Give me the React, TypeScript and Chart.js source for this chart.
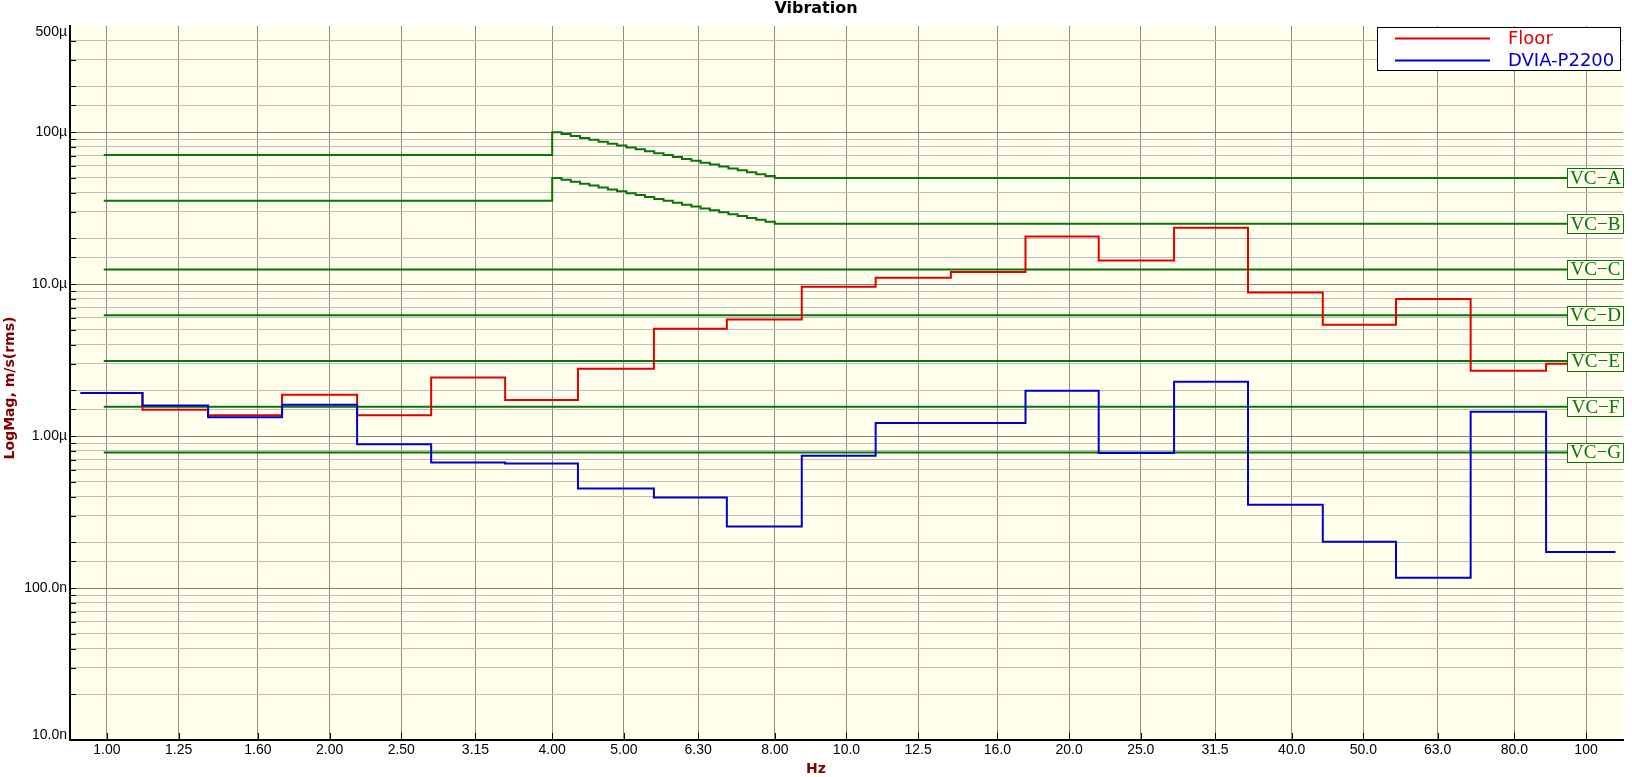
import React, { useEffect, useRef } from 'react';
import { Chart, registerables } from 'chart.js';

Chart.register(...registerables);

// ---- Data (velocity in µm/s, frequency in Hz) ----
const bandLabels = ['1.00', '1.25', '1.60', '2.00', '2.50', '3.15', '4.00', '5.00', '6.30', '8.00', '10.0', '12.5', '16.0', '20.0', '25.0', '31.5', '40.0', '50.0', '63.0', '80.0', '100'];
const bandCenters = [1, 1.25, 1.6, 2, 2.5, 3.15, 4, 5, 6.3, 8, 10, 12.5, 16, 20, 25, 31.5, 40, 50, 63, 80, 100];
// step edges of the bands as drawn
const bandEdges = [0.921, 1.117, 1.37, 1.725, 2.179, 2.744, 3.455, 4.334, 5.49, 6.89, 8.7, 10.95, 13.84, 17.46, 21.93, 27.73, 34.91, 44.06, 55.34, 69.82, 88.31, 109.6];

const floorValues = [1.92, 1.49, 1.37, 1.87, 1.37, 2.43, 1.73, 2.77, 5.08, 5.85, 9.6, 11.0, 12.0, 20.6, 14.3, 23.5, 8.81, 5.4, 8.0, 2.69, 2.99];
const dviaValues = [1.92, 1.59, 1.33, 1.61, 0.885, 0.67, 0.66, 0.452, 0.394, 0.254, 0.742, 1.22, 1.22, 1.99, 0.773, 2.28, 0.353, 0.202, 0.117, 1.445, 0.173];

const vcNames = ['VC\u2212A', 'VC\u2212B', 'VC\u2212C', 'VC\u2212D', 'VC\u2212E', 'VC\u2212F', 'VC\u2212G'];
const vcHighLevels = [50, 25, 12.5, 6.25, 3.12, 1.56, 0.78];
const vcLowA = 70.7;
const vcLowB = 35.4;
const vcStartFreq = 0.99;
const vcEndFreq = 100;
const slopeFreqs = [4.0, 4.117, 4.238, 4.362, 4.49, 4.621, 4.757, 4.896, 5.04, 5.187, 5.339, 5.496, 5.657, 5.823, 5.993, 6.169, 6.35, 6.536, 6.727, 6.924, 7.127, 7.336, 7.551, 7.772, 8.0];
const vcASlope = [100, 97.16, 94.39, 91.7, 89.09, 86.56, 84.09, 81.7, 79.37, 77.11, 74.92, 72.78, 70.71, 68.7, 66.74, 64.84, 62.99, 61.2, 59.46, 57.77, 56.12, 54.53, 52.97, 51.47, 50];
const vcBSlope = [50, 48.58, 47.19, 45.85, 44.55, 43.28, 42.05, 40.85, 39.69, 38.56, 37.46, 36.39, 35.36, 34.35, 33.37, 32.42, 31.5, 30.6, 29.73, 28.88, 28.06, 27.26, 26.49, 25.73, 25];

const yTickValues = [500, 100, 10, 1, 0.1, 0.01];
const yTickLabels = ['500\u00b5', '100\u00b5', '10.0\u00b5', '1.00\u00b5', '100.0n', '10.0n'];

const RED = '#e00000';
const BLUE = '#0000cc';
const GREEN = '#0a730a';
const CREAM = '#ffffec';

const isMajor = (v: number) => {
  const l = Math.log10(v);
  return Math.abs(l - Math.round(l)) < 1e-6;
};

const decorPlugin = {
  id: 'decor',
  beforeDraw(chart: any) {
    const { ctx, chartArea: a } = chart;
    ctx.save();
    ctx.fillStyle = '#ffffff';
    ctx.fillRect(0, 0, chart.width, chart.height);
    ctx.fillStyle = CREAM;
    ctx.fillRect(a.left, a.top, a.right - a.left, a.bottom - a.top);
    ctx.restore();
  },
  afterDatasetsDraw(chart: any) {
    const { ctx, chartArea: a } = chart;
    const ys = chart.scales.y;
    ctx.save();
    // VC labels
    ctx.font = '19px "Liberation Serif"';
    ctx.textAlign = 'center';
    ctx.textBaseline = 'middle';
    vcNames.forEach((name, i) => {
      const py = ys.getPixelForValue(vcHighLevels[i]);
      const w = 57;
      const h = 19;
      const right = a.right + 1;
      const left = right - w;
      const top = Math.round(py - h / 2) + 0.5;
      ctx.fillStyle = CREAM;
      ctx.fillRect(left, top, w, h);
      ctx.strokeStyle = GREEN;
      ctx.lineWidth = 1;
      ctx.strokeRect(left + 0.5, top, w - 1, h);
      ctx.fillStyle = GREEN;
      ctx.fillText(name, left + w / 2, py + 1);
    });

    // Legend
    const lx = 1377.5, ly = 27.5, lw = 243, lh = 43;
    ctx.fillStyle = '#ffffff';
    ctx.fillRect(lx, ly, lw, lh);
    ctx.strokeStyle = '#000000';
    ctx.lineWidth = 1;
    ctx.strokeRect(lx, ly, lw, lh);
    const items = [chart.data.datasets[1], chart.data.datasets[0]];
    ctx.font = '18px "DejaVu Sans"';
    ctx.textAlign = 'left';
    ctx.textBaseline = 'middle';
    items.forEach((ds: any, i: number) => {
      const y = 38.5 + i * 22;
      ctx.strokeStyle = ds.borderColor;
      ctx.lineWidth = 2;
      ctx.beginPath();
      ctx.moveTo(1395, y);
      ctx.lineTo(1490, y);
      ctx.stroke();
      ctx.fillStyle = ds.borderColor;
      ctx.fillText(ds.label, 1508, y + 1);
    });
    ctx.restore();
  },
  afterDraw(chart: any) {
    const { ctx, chartArea: a } = chart;
    const ys = chart.scales.y;
    const xs = chart.scales.x;
    ctx.save();
    // y tick marks (inside)
    ctx.strokeStyle = '#000000';
    ctx.lineWidth = 1;
    ys.ticks.forEach((t: any) => {
      if (t.value >= 500) return;
      const py = Math.round(ys.getPixelForValue(t.value)) + 0.5;
      ctx.beginPath();
      ctx.moveTo(a.left, py);
      ctx.lineTo(a.left + 6, py);
      ctx.stroke();
    });
    // x tick marks (inside)
    xs.ticks.forEach((t: any) => {
      const px = Math.round(xs.getPixelForValue(t.value)) + 0.5;
      ctx.beginPath();
      ctx.moveTo(px, a.bottom);
      ctx.lineTo(px, a.bottom - 7);
      ctx.stroke();
    });
    // y tick labels
    ctx.fillStyle = '#000000';
    ctx.font = '14px "Liberation Sans"';
    ctx.textAlign = 'right';
    ctx.textBaseline = 'middle';
    yTickValues.forEach((v, i) => {
      let py = ys.getPixelForValue(v);
      py = Math.max(a.top + 6.5, Math.min(a.bottom - 5, py));
      ctx.fillText(yTickLabels[i], 67, py);
    });
    // title
    ctx.textAlign = 'center';
    ctx.textBaseline = 'alphabetic';
    ctx.font = 'bold 16px "DejaVu Sans"';
    ctx.fillStyle = '#000000';
    ctx.fillText('Vibration', chart.width / 2, 13);
    // axis titles
    ctx.fillStyle = '#800000';
    ctx.font = 'bold 14px "DejaVu Sans"';
    ctx.textBaseline = 'middle';
    ctx.fillText('Hz', chart.width / 2, 769);
    ctx.translate(10, 388);
    ctx.rotate(-Math.PI / 2);
    ctx.fillText('LogMag, m/s(rms)', 0, 0);
    ctx.restore();
  },
};

function bandSeries(values: number[]) {
  return bandEdges.map((e, i) => ({ x: e, y: values[Math.min(i, values.length - 1)] }));
}

function vcSeries(i: number) {
  if (i === 0) {
    return [{ x: vcStartFreq, y: vcLowA }, ...slopeFreqs.map((f, k) => ({ x: f, y: vcASlope[k] })), { x: vcEndFreq, y: vcHighLevels[0] }];
  }
  if (i === 1) {
    return [{ x: vcStartFreq, y: vcLowB }, ...slopeFreqs.map((f, k) => ({ x: f, y: vcBSlope[k] })), { x: vcEndFreq, y: vcHighLevels[1] }];
  }
  return [{ x: vcStartFreq, y: vcHighLevels[i] }, { x: vcEndFreq, y: vcHighLevels[i] }];
}

export default function App() {
  const ref = useRef<HTMLCanvasElement | null>(null);

  useEffect(() => {
    document.body.style.margin = '0';
    if (!ref.current) return;
    const lineDefaults = { pointRadius: 0, borderWidth: 2, fill: false, stepped: 'before' as const, tension: 0 };
    const datasets: any[] = [
      { label: 'DVIA-P2200', data: bandSeries(dviaValues), borderColor: BLUE, ...lineDefaults },
      { label: 'Floor', data: bandSeries(floorValues), borderColor: RED, ...lineDefaults },
      ...vcNames.map((n, i) => ({ label: n, data: vcSeries(i), borderColor: GREEN, ...lineDefaults })),
    ];
    const chart = new Chart(ref.current, {
      type: 'line',
      data: { datasets },
      plugins: [decorPlugin],
      options: {
        animation: false,
        responsive: false,
        devicePixelRatio: 1,
        parsing: false as any,
        layout: { padding: { top: 26, right: 9, left: 0, bottom: 0 } },
        plugins: {
          legend: { display: false },
          tooltip: { enabled: false },
          title: { display: false },
        },
        scales: {
          x: {
            type: 'logarithmic',
            min: 0.8913,
            max: 112.2,
            bounds: 'data',
            afterBuildTicks: (s: any) => {
              s.ticks = bandCenters.map((v) => ({ value: v }));
            },
            afterFit: (s: any) => {
              s.height = 37;
            },
            ticks: {
              autoSkip: false,
              maxRotation: 0,
              minRotation: 0,
              padding: 2,
              color: '#000000',
              font: { family: 'Liberation Sans', size: 14 },
              callback: (_v: any, i: number) => bandLabels[i],
            },
            grid: { color: '#8c8c8c', lineWidth: 1, drawTicks: false },
            border: { display: true, color: '#000000', width: 2 },
          } as any,
          y: {
            type: 'logarithmic',
            min: 0.01,
            max: 500,
            afterFit: (s: any) => {
              s.width = 70;
            },
            ticks: { display: false, autoSkip: false },
            grid: {
              drawTicks: false,
              lineWidth: 1,
              color: (c: any) => {
                const v = c.tick ? c.tick.value : 0;
                if (v >= 500) return 'rgba(0,0,0,0)';
                return isMajor(v) ? '#808080' : '#bdbdbd';
              },
            },
            border: { display: true, color: '#000000', width: 2 },
          } as any,
        },
      },
    });
    return () => chart.destroy();
  }, []);

  return (
    <div style={{ position: 'fixed', left: 0, top: 0, width: 1632, height: 777, background: '#ffffff' }}>
      <canvas ref={ref} width={1632} height={777} style={{ display: 'block', width: 1632, height: 777 }} />
    </div>
  );
}
